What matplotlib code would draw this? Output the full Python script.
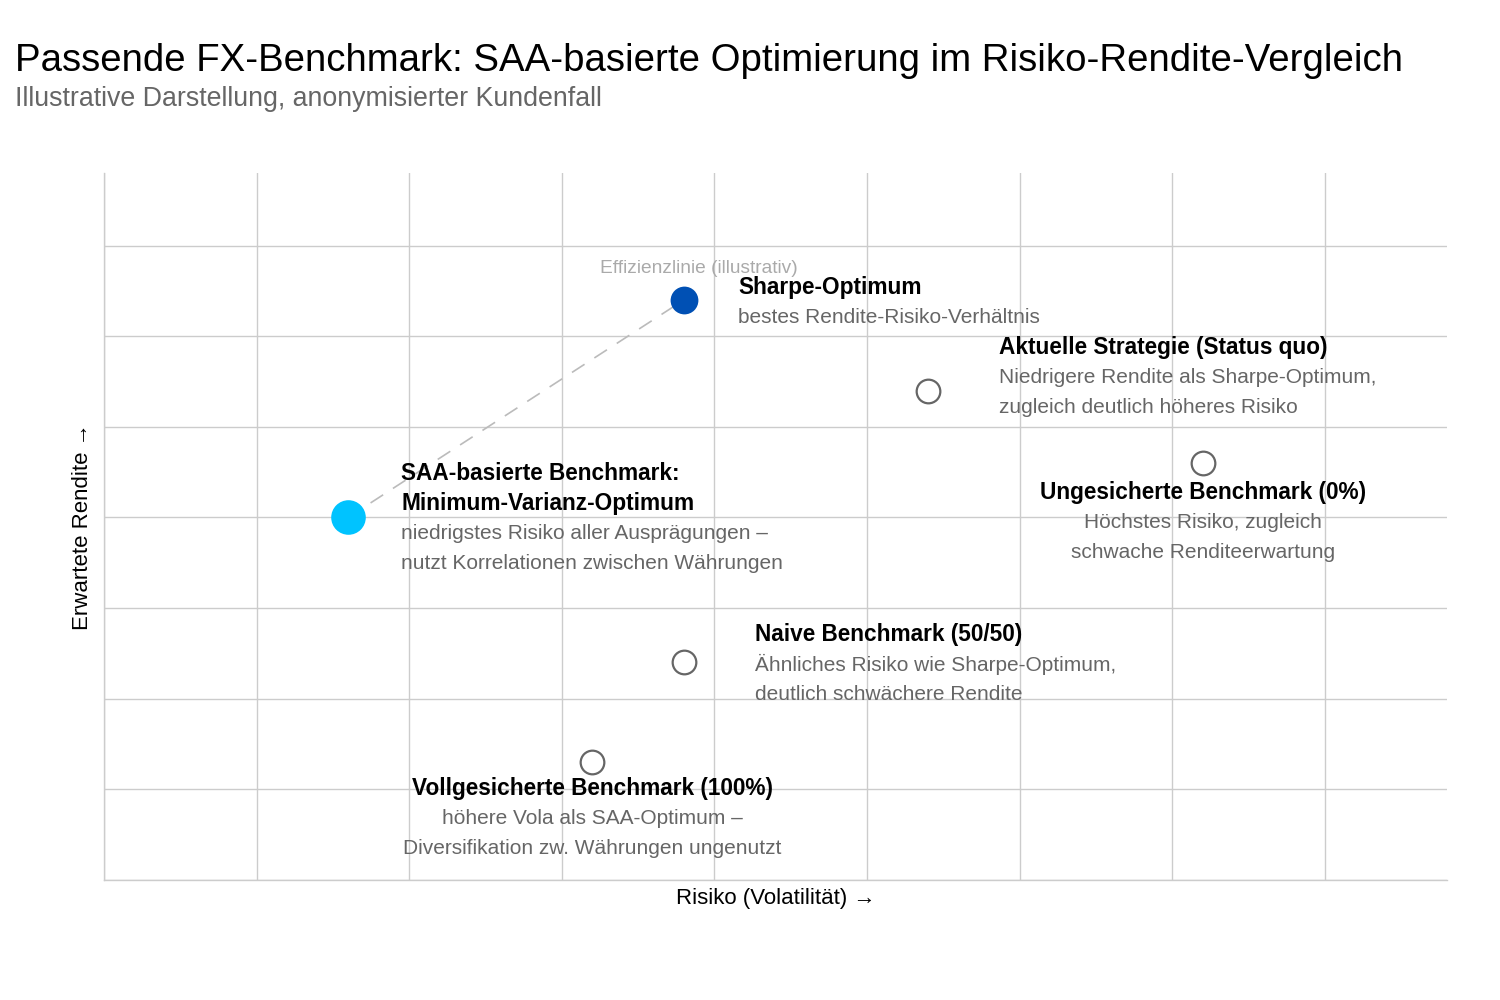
import numpy as np
import matplotlib
matplotlib.use("Agg")
from matplotlib import pyplot as plt

plt.rcParams['font.family'] = ['Liberation Sans', 'DejaVu Sans']

# data (risk, return) in arbitrary illustrative units
names = ["SAA", "Sharpe", "Aktuell", "Ungesichert", "Naive", "Voll"]
risk = [1.6, 3.8, 5.4, 7.2, 3.8, 3.2]
ret = [4.0, 6.4, 5.4, 4.6, 2.4, 1.3]

titles = [
    ["SAA-basierte Benchmark:", "Minimum-Varianz-Optimum"],
    ["Sharpe-Optimum"],
    ["Aktuelle Strategie (Status quo)"],
    ["Ungesicherte Benchmark (0%)"],
    ["Naive Benchmark (50/50)"],
    ["Vollgesicherte Benchmark (100%)"],
]
bodies = [
    ["niedrigstes Risiko aller Ausprägungen –", "nutzt Korrelationen zwischen Währungen"],
    ["bestes Rendite-Risiko-Verhältnis"],
    ["Niedrigere Rendite als Sharpe-Optimum,", "zugleich deutlich höheres Risiko"],
    ["Höchstes Risiko, zugleich", "schwache Renditeerwartung"],
    ["Ähnliches Risiko wie Sharpe-Optimum,", "deutlich schwächere Rendite"],
    ["höhere Vola als SAA-Optimum –", "Diversifikation zw. Währungen ungenutzt"],
]
# label offsets in pixels: dx, dy of first line, horizontal alignment
label_pos = [
    (53, 44, "left"),
    (54, 12, "left"),
    (71, 43, "left"),
    (0, -29, "center"),
    (71, 28, "left"),
    (0, -26, "center"),
]

fig = plt.figure(figsize=(15, 10), dpi=100)
ax = fig.add_axes([104 / 1500, 120 / 1000, 1343 / 1500, 707 / 1000])

ax.set_xlim(0, 8.8)
ax.set_ylim(0, 7.8)
ax.set_xticks(np.arange(0, 9))
ax.set_yticks(np.arange(0, 8))
ax.tick_params(length=0, labelbottom=False, labelleft=False)
ax.grid(True, color="#cccccc", lw=1)
ax.set_axisbelow(True)
for s in ["top", "right"]:
    ax.spines[s].set_visible(False)
for s in ["left", "bottom"]:
    ax.spines[s].set_color("#cccccc")
    ax.spines[s].set_linewidth(1)

# efficient frontier (illustrative)
ax.plot([risk[0], risk[1]], [ret[0], ret[1]], color="#bbbbbb", lw=1.2,
        dashes=(9, 7), zorder=2)
ax.annotate("Effizienzlinie (illustrativ)", (risk[1], ret[1]), xytext=(15, 31),
            textcoords="offset pixels", ha="center", va="center",
            fontsize=13.8, color="#aaaaaa")

ax.scatter(risk[0], ret[0], s=620, color="#00c3ff", zorder=3, linewidths=0)
ax.scatter(risk[1], ret[1], s=400, color="#0050b4", zorder=3, linewidths=0)
ax.scatter(risk[2:], ret[2:], s=290, facecolors="white", edgecolors="#666666",
           linewidths=1.6, zorder=3)

for i in range(len(names)):
    dx, dy, ha = label_pos[i]
    k = 0
    for line in titles[i]:
        ax.annotate(line, (risk[i], ret[i]), xytext=(dx, dy - 30 * k),
                    textcoords="offset pixels", ha=ha, va="center",
                    fontsize=16.3, fontweight="bold", color="black", zorder=4)
        k += 1
    for line in bodies[i]:
        ax.annotate(line, (risk[i], ret[i]), xytext=(dx, dy - 30 * k),
                    textcoords="offset pixels", ha=ha, va="center",
                    fontsize=15, color="#666666", zorder=4)
        k += 1

ax.set_xlabel("Risiko (Volatilität) →", fontsize=16, labelpad=6)
ax.set_ylabel("Erwartete Rendite →", fontsize=16, labelpad=8)

fig.text(15 / 1500, 1 - 61 / 1000, "Passende FX-Benchmark: SAA-basierte Optimierung im Risiko-Rendite-Vergleich",
         fontsize=27.6, va="center", ha="left")
fig.text(15 / 1500, 1 - 99 / 1000, "Illustrative Darstellung, anonymisierter Kundenfall",
         fontsize=19.3, va="center", ha="left", color="#666666")

fig.savefig("out.png", dpi=100)
